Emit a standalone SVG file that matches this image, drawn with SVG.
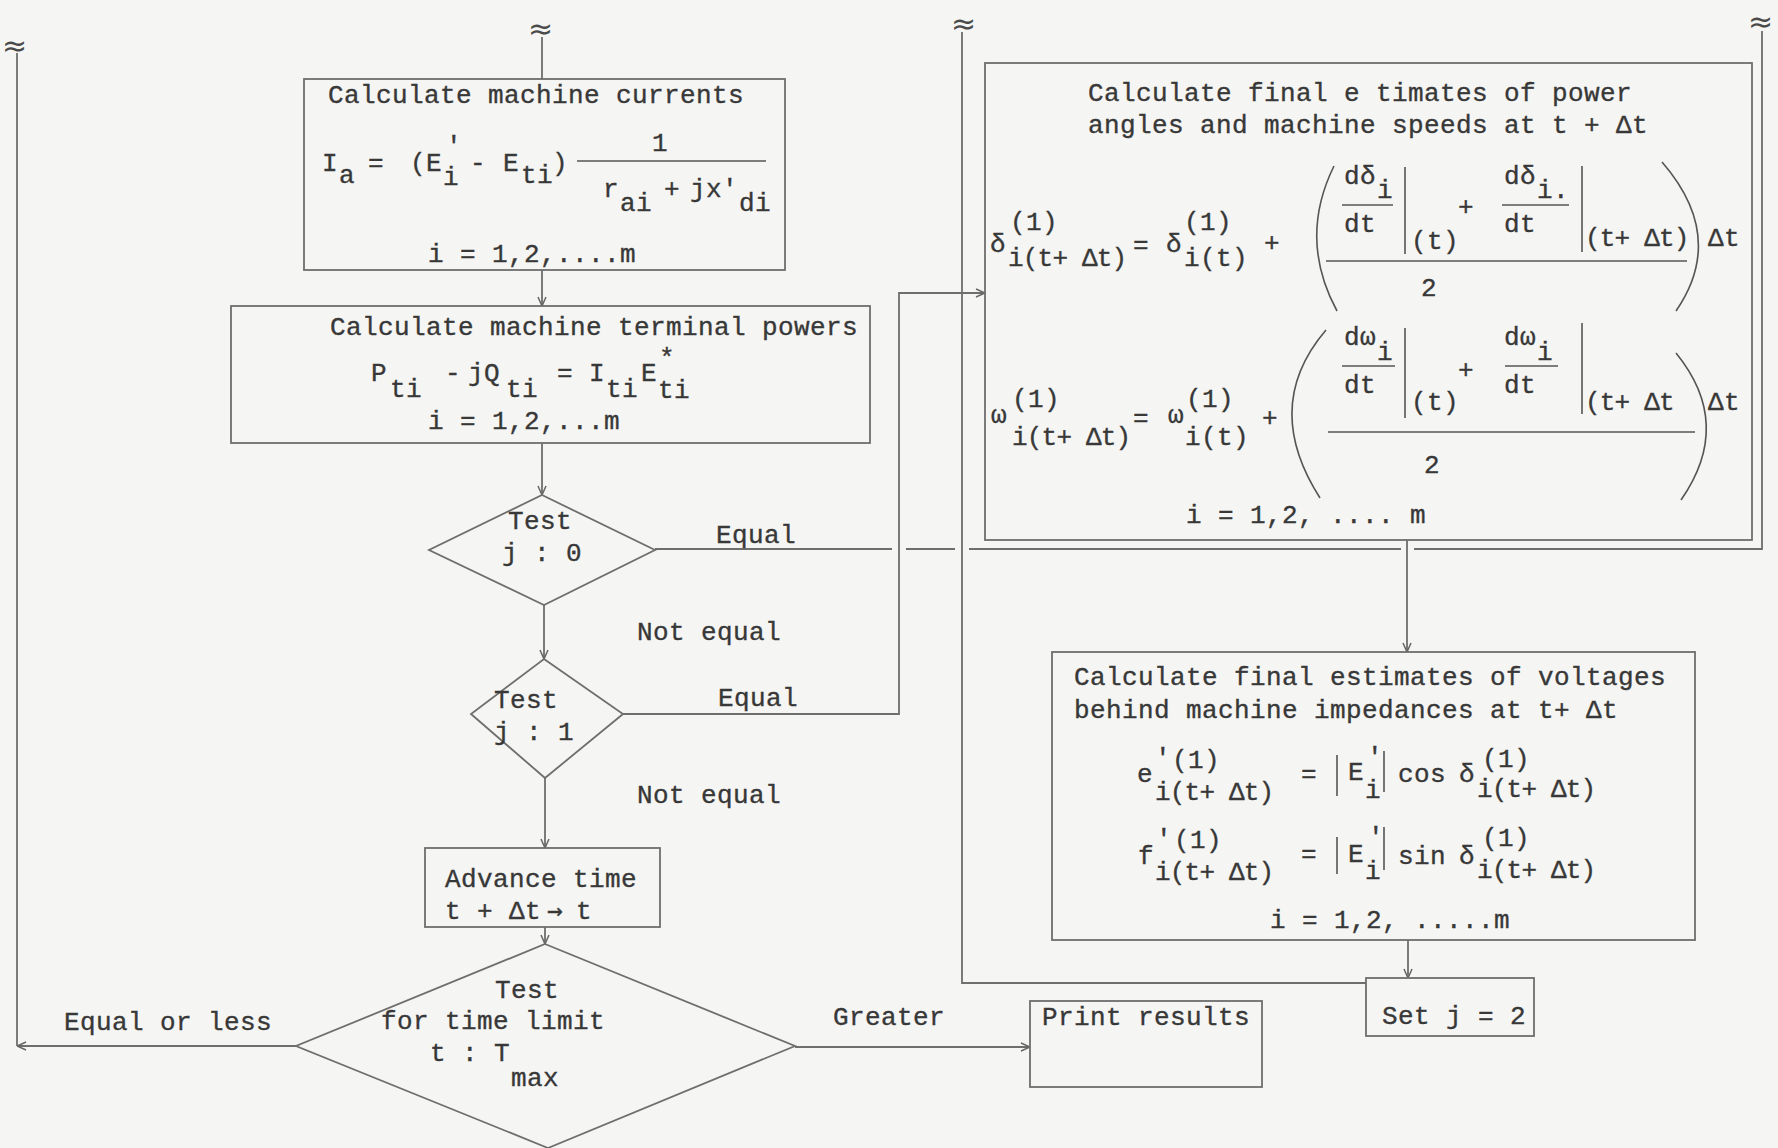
<svg xmlns="http://www.w3.org/2000/svg" width="1778" height="1148" viewBox="0 0 1778 1148">
<defs>
<style>
.t{font-family:"Liberation Mono","DejaVu Sans Mono",monospace;font-size:26px;letter-spacing:0.4px;fill:#383838;stroke:#383838;stroke-width:0.35}
.tn{letter-spacing:-0.8px}
.tl{font-family:"DejaVu Sans","Liberation Sans",sans-serif;font-size:30px;fill:#4a4a4a}
.ar{font-family:"DejaVu Sans Mono",monospace}
.box{fill:none;stroke:#6e6e6e;stroke-width:1.8}
.ln{fill:none;stroke:#6e6e6e;stroke-width:1.8}
.mt{fill:none;stroke:#555;stroke-width:1.6}
</style>
<marker id="arr" viewBox="0 0 10 10" refX="10" refY="5" markerWidth="10" markerHeight="10" markerUnits="userSpaceOnUse" orient="auto">
<path d="M1,1 L10,5 L1,9" fill="none" stroke="#666" stroke-width="1.5"/>
</marker>
</defs>
<rect width="1778" height="1148" fill="#f5f5f3"/>

<g id="connectors">
<path class="ln" d="M542,37 V79"/>
<path class="ln" d="M542,270 V306" marker-end="url(#arr)"/>
<path class="ln" d="M542,443 V495" marker-end="url(#arr)"/>
<path class="ln" d="M544,605 V659" marker-end="url(#arr)"/>
<path class="ln" d="M545,778 V848" marker-end="url(#arr)"/>
<path class="ln" d="M545,927 V944" marker-end="url(#arr)"/>
<path class="ln" d="M795,1047 H1030" marker-end="url(#arr)"/>
<path class="ln" d="M296,1046 H17" marker-end="url(#arr)"/>
<path class="ln" d="M17,1046 V53"/>
<path class="ln" d="M655,549 H892 M906,549 H955 M969,549 H1401 M1414,549 H1762 V31"/>
<path class="ln" d="M623,714 H899 V293 H985" marker-end="url(#arr)"/>
<path class="ln" d="M1407,540 V652" marker-end="url(#arr)"/>
<path class="ln" d="M1408,940 V978" marker-end="url(#arr)"/>
<path class="ln" d="M1366,983 H962 V32"/>
<text class="tl" x="2" y="56">≈</text>
<text class="tl" x="528" y="39">≈</text>
<text class="tl" x="951" y="34">≈</text>
<text class="tl" x="1748" y="32">≈</text>
<text class="t" x="716" y="543">Equal</text>
<text class="t" x="637" y="640">Not equal</text>
<text class="t" x="718" y="706">Equal</text>
<text class="t" x="637" y="803">Not equal</text>
<text class="t" x="64" y="1030">Equal or less</text>
<text class="t" x="833" y="1025">Greater</text>
</g>

<g id="calc-currents">
<rect class="box" x="304" y="79" width="481" height="191"/>
<text class="t" x="328" y="103">Calculate machine currents</text>
<text class="t"><tspan x="322" y="171">I</tspan><tspan x="339" y="183">a</tspan><tspan x="368" y="171">=</tspan><tspan x="410" y="171">(E</tspan><tspan x="446" y="154">′</tspan><tspan x="443" y="185">i</tspan><tspan x="470" y="171">-</tspan><tspan x="503" y="171">E</tspan><tspan x="521" y="183">ti</tspan><tspan x="552" y="171">)</tspan></text>
<text class="t" x="652" y="151">1</text>
<path class="mt" d="M577,161 H766"/>
<text class="t"><tspan x="603" y="197">r</tspan><tspan x="620" y="211">ai</tspan><tspan x="664" y="197">+</tspan><tspan x="690" y="197">jx′</tspan><tspan x="739" y="211">di</tspan></text>
<text class="t" x="428" y="262">i = 1,2,....m</text>
</g>

<g id="calc-powers">
<rect class="box" x="231" y="306" width="639" height="137"/>
<text class="t" x="330" y="335">Calculate machine terminal powers</text>
<text class="t"><tspan x="371" y="381">P</tspan><tspan x="390" y="397">ti</tspan><tspan x="445" y="381">-</tspan><tspan x="468" y="381">jQ</tspan><tspan x="506" y="397">ti</tspan><tspan x="557" y="381">=</tspan><tspan x="589" y="381">I</tspan><tspan x="606" y="397">ti</tspan><tspan x="641" y="381">E</tspan><tspan x="659" y="366">*</tspan><tspan x="658" y="398">ti</tspan></text>
<text class="t" x="428" y="429">i = 1,2,...m</text>
</g>

<g id="test-j0">
<path class="box" d="M542,495 L655,550 L544,605 L429,550 Z"/>
<text class="t" x="508" y="529">Test</text>
<text class="t" x="502" y="561">j : 0</text>
</g>

<g id="test-j1">
<path class="box" d="M544,659 L623,714 L545,778 L471,714 Z"/>
<text class="t" x="494" y="708">Test</text>
<text class="t" x="494" y="740">j : 1</text>
</g>

<g id="advance-time">
<rect class="box" x="425" y="848" width="235" height="79"/>
<text class="t" x="445" y="887">Advance time</text>
<text class="t"><tspan x="445" y="919">t + Δt</tspan><tspan class="ar" x="547" y="919">→</tspan><tspan x="576" y="919">t</tspan></text>
</g>

<g id="test-time">
<path class="box" d="M545,944 L795,1046 L548,1148 L296,1046 Z"/>
<text class="t" x="495" y="998">Test</text>
<text class="t" x="381" y="1029">for time limit</text>
<text class="t"><tspan x="430" y="1061">t : T</tspan><tspan x="511" y="1086">max</tspan></text>
</g>

<g id="print-results">
<rect class="box" x="1030" y="1001" width="232" height="86"/>
<text class="t" x="1042" y="1025">Print results</text>
</g>

<g id="final-angles">
<rect class="box" x="985" y="63" width="767" height="477"/>
<text class="t" x="1088" y="101">Calculate final e timates of power</text>
<text class="t" x="1088" y="133">angles and machine speeds at t + Δt</text>
<text class="t"><tspan x="990" y="252">δ</tspan><tspan x="1010" y="230">(1)</tspan><tspan class="tn" x="1008" y="266">i(t+ Δt)</tspan><tspan x="1133" y="253">=</tspan><tspan x="1166" y="252">δ</tspan><tspan x="1184" y="230">(1)</tspan><tspan x="1184" y="266">i(t)</tspan><tspan x="1264" y="251">+</tspan></text>
<path class="mt" d="M1334,166 Q1298,239 1337,311"/>
<path class="mt" d="M1662,162 Q1727,237 1676,311"/>
<text class="t"><tspan x="1344" y="184">dδ</tspan><tspan x="1377" y="198">i</tspan><tspan x="1344" y="232">dt</tspan></text>
<path class="mt" d="M1342,205 H1393"/>
<path class="mt" d="M1405,167 V254"/>
<text class="t" x="1411" y="249">(t)</text>
<text class="t" x="1458" y="215">+</text>
<text class="t"><tspan x="1504" y="184">dδ</tspan><tspan x="1537" y="198">i.</tspan><tspan x="1504" y="232">dt</tspan></text>
<path class="mt" d="M1502,205 H1569"/>
<path class="mt" d="M1582,166 V252"/>
<text class="t"><tspan class="tn" x="1585" y="246">(t+ Δt)</tspan><tspan x="1708" y="246">Δt</tspan></text>
<path class="mt" d="M1326,261 H1687"/>
<text class="t" x="1421" y="296">2</text>
<text class="t"><tspan x="991" y="423">ω</tspan><tspan x="1012" y="407">(1)</tspan><tspan class="tn" x="1012" y="445">i(t+ Δt)</tspan><tspan x="1133" y="426">=</tspan><tspan x="1168" y="423">ω</tspan><tspan x="1186" y="407">(1)</tspan><tspan x="1185" y="445">i(t)</tspan><tspan x="1262" y="426">+</tspan></text>
<path class="mt" d="M1326,330 Q1261,406 1320,498"/>
<path class="mt" d="M1676,353 Q1734,424 1681,500"/>
<text class="t"><tspan x="1344" y="345">dω</tspan><tspan x="1377" y="360">i</tspan><tspan x="1344" y="393">dt</tspan></text>
<path class="mt" d="M1342,366 H1395"/>
<path class="mt" d="M1405,328 V418"/>
<text class="t" x="1411" y="410">(t)</text>
<text class="t" x="1458" y="378">+</text>
<text class="t"><tspan x="1504" y="345">dω</tspan><tspan x="1537" y="360">i</tspan><tspan x="1504" y="393">dt</tspan></text>
<path class="mt" d="M1505,366 H1558"/>
<path class="mt" d="M1582,323 V414"/>
<text class="t"><tspan class="tn" x="1585" y="410">(t+ Δt</tspan><tspan x="1708" y="410">Δt</tspan></text>
<path class="mt" d="M1328,432 H1695"/>
<text class="t" x="1424" y="473">2</text>
<text class="t" x="1186" y="523">i = 1,2, .... m</text>
</g>

<g id="final-voltages">
<rect class="box" x="1052" y="652" width="643" height="288"/>
<text class="t" x="1074" y="685">Calculate final estimates of voltages</text>
<text class="t" x="1074" y="718">behind machine impedances at t+ Δt</text>
<text class="t"><tspan x="1137" y="782">e</tspan><tspan x="1155" y="766">′</tspan><tspan x="1172" y="768">(1)</tspan><tspan class="tn" x="1155" y="800">i(t+ Δt)</tspan><tspan x="1301" y="782">=</tspan><tspan x="1348" y="780">E</tspan><tspan x="1367" y="765">′</tspan><tspan x="1365" y="798">i</tspan><tspan x="1398" y="782">cos</tspan><tspan x="1459" y="782">δ</tspan><tspan x="1482" y="767">(1)</tspan><tspan class="tn" x="1477" y="797">i(t+ Δt)</tspan></text>
<path class="mt" d="M1337,755 V796 M1384,751 V792"/>
<text class="t"><tspan x="1138" y="864">f</tspan><tspan x="1156" y="847">′</tspan><tspan x="1174" y="848">(1)</tspan><tspan class="tn" x="1155" y="880">i(t+ Δt)</tspan><tspan x="1301" y="862">=</tspan><tspan x="1348" y="862">E</tspan><tspan x="1368" y="845">′</tspan><tspan x="1365" y="879">i</tspan><tspan x="1398" y="864">sin</tspan><tspan x="1459" y="864">δ</tspan><tspan x="1482" y="846">(1)</tspan><tspan class="tn" x="1477" y="878">i(t+ Δt)</tspan></text>
<path class="mt" d="M1337,837 V874 M1384,827 V870"/>
<text class="t" x="1270" y="928">i = 1,2, .....m</text>
</g>

<g id="set-j2">
<rect class="box" x="1366" y="978" width="168" height="58"/>
<text class="t" x="1382" y="1024">Set j = 2</text>
</g>
</svg>
